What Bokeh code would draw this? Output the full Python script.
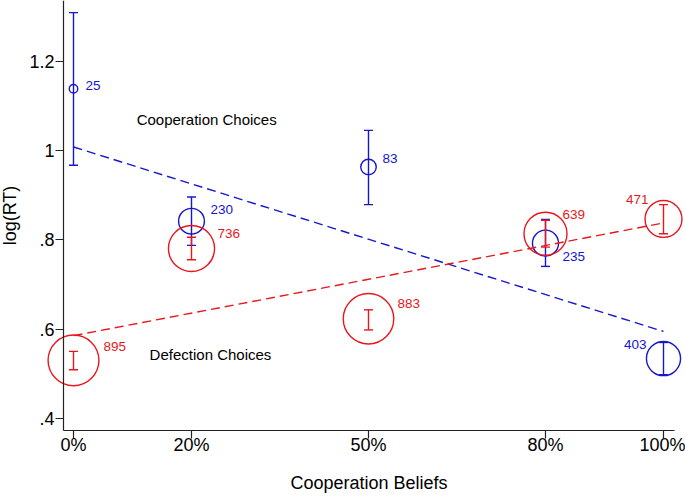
import numpy as np
from bokeh.plotting import figure
from bokeh.models import FixedTicker, ColumnDataSource
from bokeh.core.properties import value
from bokeh.embed import file_html
from bokeh.resources import INLINE

# ---- data ----
beliefs = [0, 20, 50, 80, 100]                     # cooperation beliefs (%)
x_tick_labels = ["0%", "20%", "50%", "80%", "100%"]
y_ticks = [0.4, 0.6, 0.8, 1.0, 1.2]
y_tick_labels = [".4", ".6", ".8", "1", "1.2"]

coop_mean = [1.138, 0.842, 0.963, 0.793, 0.535]
coop_lo = [0.967, 0.788, 0.879, 0.741, 0.499]
coop_hi = [1.308, 0.896, 1.045, 0.846, 0.571]
coop_n = [25, 230, 83, 235, 403]

defe_mean = [0.531, 0.781, 0.624, 0.814, 0.847]
defe_lo = [0.510, 0.756, 0.599, 0.784, 0.814]
defe_hi = [0.551, 0.806, 0.644, 0.844, 0.879]
defe_n = [895, 736, 883, 639, 471]

# label placement (screen px offsets from the point, and alignment)
coop_dx = [12, 19, 14, 17, -17]
coop_dy = [-3, -12, -9, 13, -14]
coop_align = ["left", "left", "left", "left", "right"]
defe_dx = [30, 26, 29, 17, -15]
defe_dy = [-14, -15, -15, -19, -19]
defe_align = ["left", "left", "left", "left", "right"]

BLUE = "#1616cc"
RED = "#e8171d"
FONT = "Liberation Sans"

# axis extents (where the axis lines start/end); the drawing area covers the
# whole canvas so the big circles and the axis texts are never clipped
X_AXIS = (-1.69, 101.86)
Y_AXIS = (0.3743, 1.3352)
X_TITLE_Y = 0.2559   # vertical position (data units) of the x-axis title

p = figure(width=685, height=499, x_range=(-12.373, 103.729), y_range=(0.2201, Y_AXIS[1]),
           output_backend="svg", toolbar_location=None,
           min_border_left=0, min_border_right=0, min_border_top=0, min_border_bottom=0)
p.outline_line_color = None
p.xgrid.visible = False
p.ygrid.visible = False
p.background_fill_color = "white"
p.border_fill_color = "white"

# axes
p.xaxis.ticker = FixedTicker(ticks=beliefs)
p.xaxis.major_label_overrides = {b: l for b, l in zip(beliefs, x_tick_labels)}
p.xaxis.bounds = X_AXIS
p.xaxis.fixed_location = Y_AXIS[0]
p.yaxis.ticker = FixedTicker(ticks=y_ticks)
p.yaxis.major_label_overrides = {t: l for t, l in zip(y_ticks, y_tick_labels)}
p.yaxis.bounds = Y_AXIS
p.yaxis.fixed_location = X_AXIS[0]
for ax in (p.xaxis, p.yaxis):
    ax.axis_line_color = "#222222"
    ax.axis_line_width = 1.2
    ax.major_tick_line_color = "#222222"
    ax.major_tick_line_width = 1.2
    ax.major_tick_out = 8
    ax.major_tick_in = 0
    ax.minor_tick_line_color = None
    ax.major_label_text_font = FONT
    ax.major_label_text_font_size = "18px"
    ax.major_label_text_color = "black"
    ax.axis_label_text_font = FONT
    ax.axis_label_text_font_size = "18px"
    ax.axis_label_text_font_style = "normal"
    ax.axis_label_text_color = "black"
p.yaxis.axis_label = "log(RT)"
p.xaxis.major_label_standoff = -3
p.yaxis.major_label_standoff = 1
p.yaxis.axis_label_standoff = 6

# x-axis title, centred under the axis line
p.text(x=[sum(X_AXIS) / 2], y=[X_TITLE_Y], text=["Cooperation Beliefs"],
       text_align="center", text_baseline="middle", text_color="black",
       text_font=value(FONT), text_font_size="18px")

def draw_group(means, lo, hi, n, color, dx, dy, align):
    xs = np.array(beliefs, dtype=float)
    m = np.array(means)
    nn = np.array(n, dtype=float)
    # weighted linear fit (weights = group sizes)
    slope, icpt = np.polyfit(xs, m, 1, w=np.sqrt(nn))
    fx = np.array([xs.min(), xs.max()])
    p.line(fx, icpt + slope * fx, line_color=color, line_width=1.4, line_dash="9 5")
    # error bars
    p.segment(x0=xs, y0=lo, x1=xs, y1=hi, line_color=color, line_width=1.4)
    p.scatter(x=np.concatenate([xs, xs]), y=np.concatenate([lo, hi]), marker="dash",
              size=9, line_color=color, line_width=1.4)
    # hollow circles sized by count
    p.scatter(x=xs, y=m, size=1.7 * np.sqrt(nn), marker="circle",
              fill_color=None, line_color=color, line_width=1.4)
    src = ColumnDataSource(dict(x=xs, y=m, t=[str(v) for v in n], dx=dx, dy=dy, al=align))
    p.text(x="x", y="y", text="t", x_offset="dx", y_offset="dy", text_align="al",
           text_baseline="middle", text_color=color, text_font=value(FONT),
           text_font_size="13.5px", source=src)

draw_group(coop_mean, coop_lo, coop_hi, coop_n, BLUE, coop_dx, coop_dy, coop_align)
draw_group(defe_mean, defe_lo, defe_hi, defe_n, RED, defe_dx, defe_dy, defe_align)

p.text(x=[10.7], y=[1.069], text=["Cooperation Choices"], text_align="left",
       text_baseline="middle", text_color="black", text_font=value(FONT),
       text_font_size="15px")
p.text(x=[12.9], y=[0.544], text=["Defection Choices"], text_align="left",
       text_baseline="middle", text_color="black", text_font=value(FONT),
       text_font_size="15px")

open("out.html", "w").write(file_html(p, INLINE))
